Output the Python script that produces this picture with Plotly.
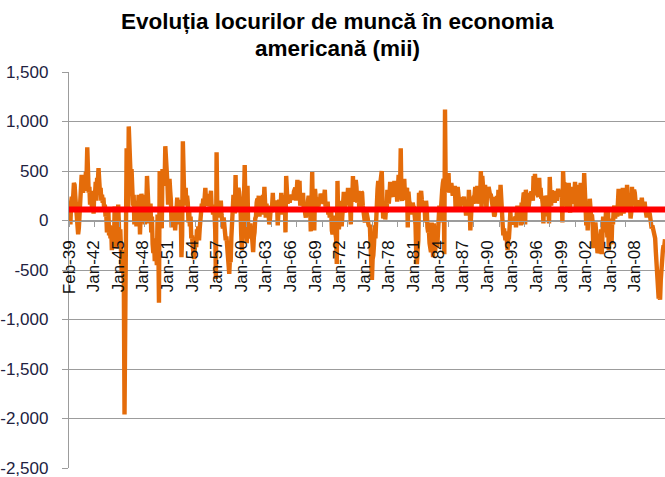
import plotly.graph_objects as go

# Monthly change in US nonfarm payrolls (thousands), Feb-1939 .. Oct-2009
jobs_1939_1949 = [
    150, 60, -40, 180, 240, 120, 270, 380, 360, 240, 110,
    -60, -20, -140, -80, 90, 250, 330, 460, 410, 280, 350, 430,
    300, 490, 450, 740, 400, 280, 340, 160, 300, 180, 90, 240,
    70, 300, 260, 390, 200, 430, 380, 530, 460, 290, 330, 200,
    260, 180, 230, 120, 160, 40, 70, -120, -60, 100, -150, -50,
    -180, -80, -300, -150, -60, -220, 140, -100, -280, 20, -120, 160,
    -100, -250, -90, -380, -520, -300, -450, -620, -1960, -560, 350, 730,
    480, 120, 950, 620, 460, 380, 520, 310, 150, 260, -40, 120,
    200, -60, 150, 90, 260, 180, -140, 220, 270, 170, 60, 240,
    110, -40, 260, 150, 450, 130, 150, -30, 80, 170, -120, 40,
    -240, -330, -180, -410, -350, -280, -450, 60, -140, -830, 500, 160,
]
jobs_1950_1959 = [
    120, -80, 520, 390, 480, 350, 750, 660, 430, 380, 160, 260,
    420, 300, 200, -70, 130, 60, -60, 140, -100, 80, 190, 230,
    100, 210, -40, 180, 60, -370, -150, 800, 450, 210, 300, 330,
    150, 250, 180, -20, 100, -60, 40, -180, -150, -260, -300, -390,
    -280, -170, -270, -90, -120, -60, -200, -80, 90, 120, 170, 130,
    220, 130, 260, 330, 200, 250, 150, 200, 270, 140, 190, 300,
    120, 160, 60, 150, 80, -90, -590, 690, 110, 30, 160, 90,
    90, 200, 60, -40, -80, 30, -60, -130, -200, -160, -280, -220,
    -460, -540, -380, -420, -170, 30, 150, 260, 210, 70, 460, 120,
    180, 270, 330, 290, 180, 140, -140, -300, 20, -180, 230, 560,
]
jobs_1960_1969 = [
    180, 60, -230, 350, -120, -60, -100, -30, -180, -130, -220, -320,
    -170, -120, 20, 40, 180, 220, 160, 250, 40, 170, 240, 160,
    60, 260, 150, 340, 40, 30, 170, 30, 150, 60, -40, 20,
    120, 80, 150, 280, 110, 90, 180, 130, 200, 180, -50, 170,
    210, 150, 110, 280, 60, 160, 240, 200, 260, -120, 450, 170,
    170, 220, 260, 180, 240, 220, 260, 230, 210, 290, 310, 330,
    200, 300, 410, 270, 230, 400, 150, 190, 200, 250, 280, 110,
    180, 70, 30, 120, 110, 200, 250, 190, 170, -110, 370, 490,
    50, 300, -100, 320, 230, 220, 180, 170, 140, 210, 180, 270,
    250, 260, 200, 170, 240, 310, 140, 180, 150, 190, 60, 130,
]
jobs_1970_1979 = [
    30, 70, 110, -100, -140, -90, 50, -70, -140, -180, -440, 400,
    40, -90, 90, 190, 200, -60, 70, 80, 290, 80, 170, 210,
    250, 200, 330, 190, 220, 140, -40, 330, 200, 450, 190, 260,
    290, 410, 340, 180, 230, 300, 120, 230, 160, 290, 280, 150,
    80, 110, -20, 130, 100, 80, 20, -40, -60, -40, -370, -540,
    -600, -390, -350, -240, -50, -180, 60, 150, 320, 400, 110, 230,
    380, 420, 500, 240, 20, 50, 150, 10, 120, 80, 310, 200,
    170, 260, 390, 310, 350, 380, 260, 240, 400, 260, 350, 310,
    190, 330, 460, 420, 300, 730, 230, 200, 240, 320, 420, 260,
    210, 300, 330, -70, 290, 200, 170, 60, 120, 110, 180, 140,
]
jobs_1980_1989 = [
    130, 40, -40, -320, -440, -300, -200, 280, 90, 260, 300, 210,
    110, 100, 190, 140, -20, 200, 120, -70, -120, -100, -230, -300,
    -320, -20, -230, -370, -30, -230, -320, -170, -230, -270, -120, -10,
    150, -20, 170, 270, 310, 380, 420, -340, 1120, 290, 360, 350,
    450, 480, 280, 360, 340, 380, 290, 250, 310, 280, 350, 130,
    270, 230, 340, 200, 280, 120, 190, 200, 210, 230, 210, 240,
    140, 120, 50, 200, 130, 60, 310, 190, -100, 170, 170, 220,
    170, 240, 250, 340, 220, 170, 350, 170, 240, 300, 250, 500,
    110, 450, 260, 260, 200, 360, 230, 110, 340, 260, 340, 290,
    260, 270, 190, 160, 130, 110, 40, 60, 240, 110, 250, 90,
]
jobs_1990_1999 = [
    310, 260, 150, 360, 150, 30, -40, -150, -80, -150, -200, -110,
    -170, -300, -170, -170, -60, 90, -40, -20, 20, 10, -40, -20,
    40, -70, 60, 150, 90, 30, 60, 150, -50, 180, 110, 200,
    280, 270, -40, 310, 240, 170, 270, 140, 250, 260, 270, 290,
    270, 200, 450, 340, 470, 310, 340, 270, 240, 240, 430, 260,
    330, 220, 230, 170, -30, 250, 40, 250, 230, 80, 140, 160,
    -30, 440, 250, 150, 300, 280, 190, 300, 180, 240, 280, 200,
    280, 320, 270, 300, 240, 260, 270, -20, 500, 320, 380, 340,
    340, 200, 120, 300, 380, 200, 80, 340, 200, 170, 240, 340,
    240, 390, 100, 360, 220, 250, 340, 140, 190, 380, 240, 290,
]
jobs_2000_2009 = [
    250, 120, 480, 280, 220, -50, 150, -100, 60, 50, 220, 100,
    20, 60, -20, -280, -40, -130, -20, -130, -240, -330, -300, -180,
    -220, -180, -90, -340, -30, 40, -120, 10, -80, 90, 20, -170,
    90, -300, -210, -50, -20, -240, 20, -40, 110, 150, 20, 90,
    150, 40, 320, 320, 280, 80, 50, 130, 160, 330, 70, 130,
    120, 260, 130, 360, 170, 240, 240, 190, 20, 80, 340, 160,
    280, 310, 280, 180, 120, 180, 200, 180, 160, 110, 200, 170,
    230, 150, 180, 140, 190, 120, 80, 30, 110, 120, 60, 80,
    30, -40, -80, -50, -90, -100, -130, -180, -320, -450, -600, -700,
    -790, -720, -800, -600, -420, -470, -300, -250, -260, -190,
]
average_level = [110]

x_labels = ["Feb-39", "Jan-42", "Jan-45", "Jan-48", "Jan-51", "Jan-54", "Jan-57",
            "Jan-60", "Jan-63", "Jan-66", "Jan-69", "Jan-72", "Jan-75", "Jan-78",
            "Jan-81", "Jan-84", "Jan-87", "Jan-90", "Jan-93", "Jan-96", "Jan-99",
            "Jan-02", "Jan-05", "Jan-08"]
y_ticks = [1500, 1000, 500, 0, -500, -1000, -1500, -2000, -2500]
y_tick_text = ["1,500", "1,000", "500", "0", "-500", "-1,000", "-1,500", "-2,000", "-2,500"]
title_lines = ["Evoluția locurilor de muncă în economia", "americană (mii)"]

jobs = (jobs_1939_1949 + jobs_1950_1959 + jobs_1960_1969 + jobs_1970_1979
        + jobs_1980_1989 + jobs_1990_1999 + jobs_2000_2009)
months = list(range(len(jobs)))
x_max = months[-1]
label_pos = [35 * k for k in range(len(x_labels))]
tick_pos = [36 * k for k in range(0, x_max // 36 + 1)]

FONT = "Liberation Sans, Arial, sans-serif"
GRID = "#9c9c9c"
W, H = 665, 477
M_L, M_R, M_T, M_B = 69, 0, 72, 9
plot_h = H - M_T - M_B


def paper_y(px):
    return (H - M_B - px) / plot_h


fig = go.Figure()
fig.add_trace(go.Scatter(x=months, y=jobs, mode="lines",
                         line=dict(color="#E46C0A", width=4.4), hoverinfo="skip"))
fig.add_trace(go.Scatter(x=[0, x_max], y=average_level * 2, mode="lines",
                         line=dict(color="#FF0000", width=6), hoverinfo="skip"))
fig.add_trace(go.Scatter(x=[0], y=[0], xaxis="x2", mode="markers",
                         marker=dict(opacity=0), hoverinfo="skip"))

zero_frac = (0 - y_ticks[-1]) / (y_ticks[0] - y_ticks[-1])

fig.update_layout(
    width=W, height=H,
    margin=dict(l=M_L, r=M_R, t=M_T, b=M_B, autoexpand=False),
    paper_bgcolor="white", plot_bgcolor="white", showlegend=False,
    xaxis=dict(range=[0, x_max], tickmode="array", tickvals=label_pos, ticktext=x_labels,
               tickangle=-90, ticks="", showgrid=False, zeroline=False,
               showline=True, linecolor=GRID, linewidth=1,
               anchor="free", position=zero_frac, automargin=False,
               ticklabelstandoff=12,
               tickfont=dict(family=FONT, size=17, color="#111111")),
    xaxis2=dict(range=[0, x_max], overlaying="x", anchor="free", position=zero_frac,
                tickmode="array", tickvals=tick_pos, ticks="outside", ticklen=5,
                tickcolor=GRID, showticklabels=False, showgrid=False, zeroline=False,
                showline=False, automargin=False),
    yaxis=dict(range=[y_ticks[-1], y_ticks[0]], tickmode="array", tickvals=y_ticks,
               ticktext=y_tick_text, showgrid=True, gridcolor=GRID, gridwidth=1.3,
               zeroline=False, showline=True, linecolor=GRID, linewidth=1.3,
               ticks="outside", ticklen=6, tickcolor=GRID, automargin=False,
               ticklabelstandoff=10, ticklabeloverflow="allow",
               tickfont=dict(family=FONT, size=17, color="#22223f")),
    annotations=[
        dict(text="<b>%s</b>" % title_lines[0], xref="paper", yref="paper",
             x=0.45, y=paper_y(21.5), xanchor="center", yanchor="middle", showarrow=False,
             font=dict(family=FONT, size=22.5, color="#000000")),
        dict(text="<b>%s</b>" % title_lines[1], xref="paper", yref="paper",
             x=0.45, y=paper_y(48.5), xanchor="center", yanchor="middle", showarrow=False,
             font=dict(family=FONT, size=22.5, color="#000000")),
    ],
)

fig.write_html("out.html", config={"displayModeBar": False},
               post_script="document.body.style.margin='0';document.body.style.padding='0';")
